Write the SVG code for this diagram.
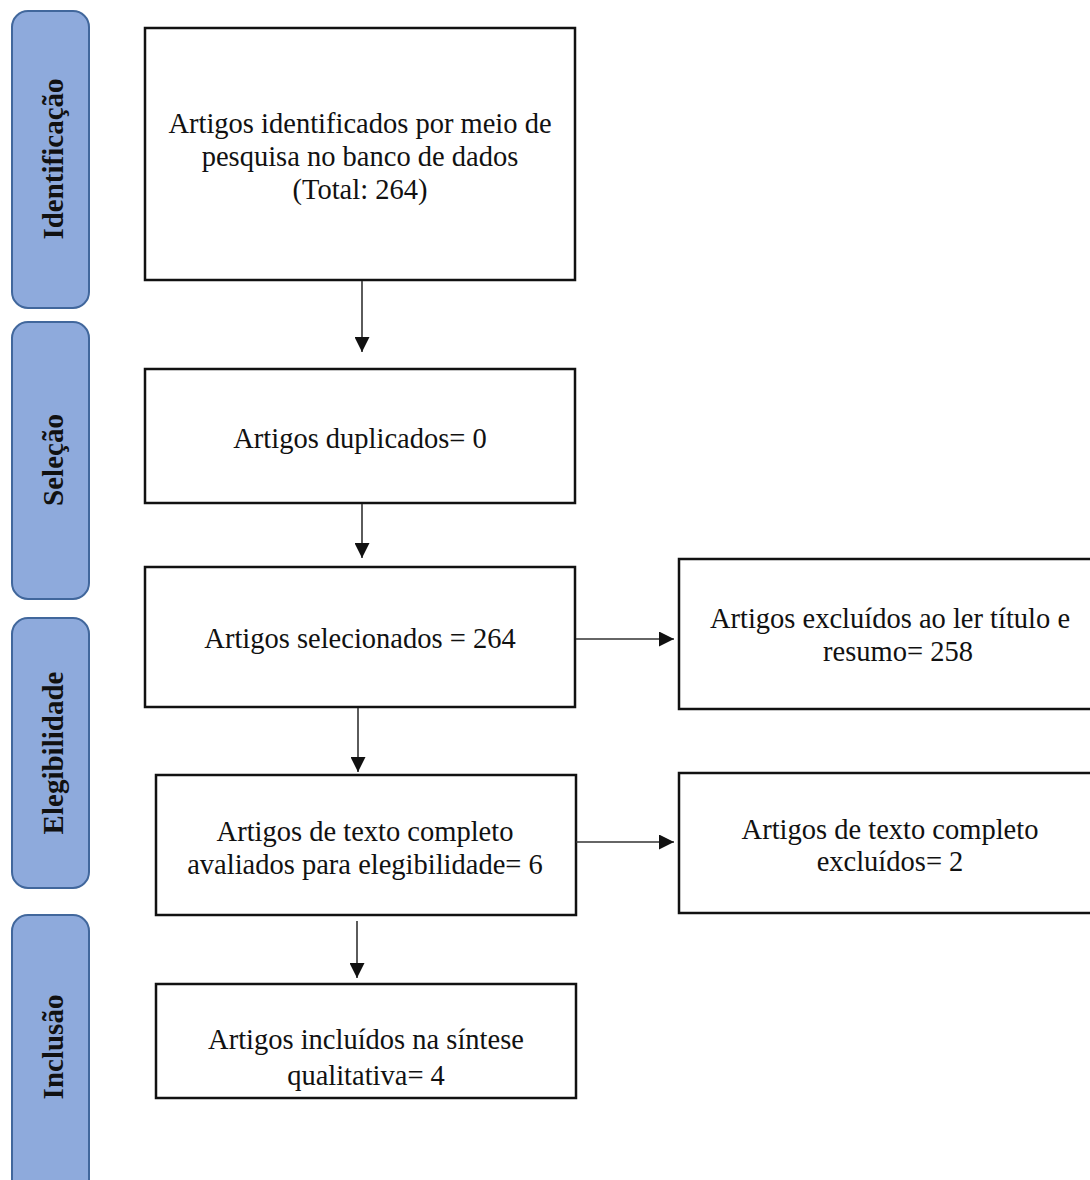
<svg xmlns="http://www.w3.org/2000/svg" width="1090" height="1180" viewBox="0 0 1090 1180">
<style>
.phase{fill:#8eaadc;stroke:#41679c;stroke-width:2}
.ptxt{font-family:"Liberation Serif","Times New Roman",serif;font-weight:bold;font-size:29px;fill:#111;text-anchor:middle}
.box{fill:#fff;stroke:#111;stroke-width:2.5}
.txt{font-family:"Liberation Serif","Times New Roman",serif;font-size:28.5px;fill:#111;text-anchor:middle}
.conn{stroke:#333;stroke-width:1.6;fill:none}
</style>
<defs>
<marker id="ah" viewBox="0 0 10 10" refX="10" refY="5" markerWidth="16" markerHeight="15" markerUnits="userSpaceOnUse" orient="auto">
<path d="M0,0 L10,5 L0,10 Z" fill="#111"/>
</marker>
</defs>
<rect width="1090" height="1180" fill="#fff"/>
<g id="phase-identificacao"><rect class="phase" x="12" y="11" width="77" height="297" rx="16"/><text class="ptxt" transform="translate(63,159) rotate(-90)">Identificação</text></g>
<g id="phase-selecao"><rect class="phase" x="12" y="322" width="77" height="277" rx="16"/><text class="ptxt" transform="translate(63,460) rotate(-90)">Seleção</text></g>
<g id="phase-elegibilidade"><rect class="phase" x="12" y="618" width="77" height="270" rx="16"/><text class="ptxt" transform="translate(63,753) rotate(-90)">Elegibilidade</text></g>
<g id="phase-inclusao"><rect class="phase" x="12" y="915" width="77" height="285" rx="16"/><text class="ptxt" transform="translate(63,1047) rotate(-90)">Inclusão</text></g>

<g id="n1"><rect class="box" x="145" y="28" width="430" height="252"/><text class="txt" x="360" y="133">Artigos identificados por meio de</text><text class="txt" x="360" y="166">pesquisa no banco de dados</text><text class="txt" x="360" y="199">(Total: 264)</text></g>
<g id="n2"><rect class="box" x="145" y="369" width="430" height="134"/><text class="txt" x="360" y="448">Artigos duplicados= 0</text></g>
<g id="n3"><rect class="box" x="145" y="567" width="430" height="140"/><text class="txt" x="360" y="648">Artigos selecionados = 264</text></g>
<g id="n4"><rect class="box" x="679" y="559" width="420" height="150"/><text class="txt" x="890" y="628">Artigos excluídos ao ler título e</text><text class="txt" x="898" y="661">resumo= 258</text></g>
<g id="n5"><rect class="box" x="156" y="775" width="420" height="140"/><text class="txt" x="365" y="841">Artigos de texto completo</text><text class="txt" x="365" y="874">avaliados para elegibilidade= 6</text></g>
<g id="n6"><rect class="box" x="679" y="773" width="420" height="140"/><text class="txt" x="890" y="839">Artigos de texto completo</text><text class="txt" x="890" y="871">excluídos= 2</text></g>
<g id="n7"><rect class="box" x="156" y="984" width="420" height="114"/><text class="txt" x="366" y="1049">Artigos incluídos na síntese</text><text class="txt" x="366" y="1085">qualitativa= 4</text></g>

<g id="connectors">
<line class="conn" x1="362" y1="281" x2="362" y2="352" marker-end="url(#ah)"/>
<line class="conn" x1="362" y1="504" x2="362" y2="558" marker-end="url(#ah)"/>
<line class="conn" x1="576" y1="639" x2="674" y2="639" marker-end="url(#ah)"/>
<line class="conn" x1="358" y1="708" x2="358" y2="772" marker-end="url(#ah)"/>
<line class="conn" x1="576" y1="842" x2="674" y2="842" marker-end="url(#ah)"/>
<line class="conn" x1="357" y1="921" x2="357" y2="978" marker-end="url(#ah)"/>
</g>
</svg>
